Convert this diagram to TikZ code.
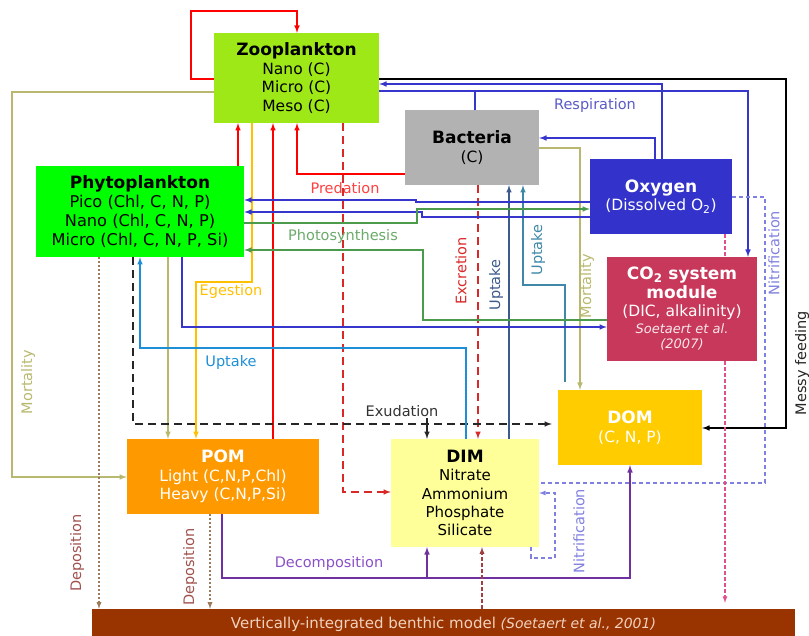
\documentclass[tikz,border=0pt]{standalone}
\usepackage{fontspec}
\setmainfont{DejaVu Sans}
\usepackage{tikz}
\usetikzlibrary{positioning}

\definecolor{zoocol}{HTML}{9FE817}
\definecolor{phycol}{HTML}{00FF00}
\definecolor{baccol}{HTML}{B2B2B2}
\definecolor{oxycol}{HTML}{3333CC}
\definecolor{co2col}{HTML}{C8385A}
\definecolor{domcol}{HTML}{FFCC00}
\definecolor{pomcol}{HTML}{FF9900}
\definecolor{dimcol}{HTML}{FFFF99}
\definecolor{bencol}{HTML}{993300}
\definecolor{bentxt}{HTML}{F2D2BE}
\definecolor{predred}{HTML}{FF0000}
\definecolor{excred}{HTML}{D92828}
\definecolor{egegold}{HTML}{FFC000}
\definecolor{mortolive}{HTML}{B8B86E}
\definecolor{depbrown}{HTML}{9C7A5C}
\definecolor{deplbl}{HTML}{A0524F}
\definecolor{upblue}{HTML}{1E8FD6}
\definecolor{upteal}{HTML}{3F88A8}
\definecolor{upnavy}{HTML}{3D5A8C}
\definecolor{respblue}{HTML}{3636CC}
\definecolor{resplbl}{HTML}{5A5AC8}
\definecolor{photgreen}{HTML}{4C9A4C}
\definecolor{photlbl}{HTML}{6AAA6A}
\definecolor{nitlav}{HTML}{8080E0}
\definecolor{pinkdash}{HTML}{E0508A}
\definecolor{decpurple}{HTML}{7030A0}
\definecolor{declbl}{HTML}{8A50C8}
\definecolor{bendash}{HTML}{A04040}

\newcommand\boxttl[1]{{\fontsize{17}{19}\selectfont\bfseries #1}}

\tikzset{
	box/.style={inner sep=0pt, align=center, font=\fontsize{15.5}{18.5}\selectfont},
	lbl/.style={inner sep=0pt, font=\fontsize{14.5}{17}\selectfont},
	flow/.style={line width=1.5pt},
	pred/.style={flow, predred, -latex},
	excd/.style={flow, excred, dash pattern=on 8pt off 5pt, -latex},
	ege/.style={flow, egegold, -latex},
	mort/.style={flow, mortolive, -latex},
	dep/.style={line width=1.3pt, depbrown, dash pattern=on 2pt off 2pt, -latex},
	exu/.style={flow, black!85, dash pattern=on 8pt off 5pt, -latex},
	upb/.style={flow, upblue, -latex},
	upt/.style={flow, upteal, -latex},
	upn/.style={flow, upnavy, -latex},
	resp/.style={flow, respblue, -latex},
	phot/.style={flow, photgreen, -latex},
	messy/.style={flow, black, -latex},
	nitr/.style={line width=1.2pt, nitlav, dash pattern=on 4pt off 3pt},
	pinkd/.style={line width=1.2pt, pinkdash, dash pattern=on 4pt off 2pt},
	dec/.style={flow, decpurple, -latex},
	benflux/.style={line width=1.3pt, bendash, dash pattern=on 4pt off 2pt, -latex}
}

\begin{document}
\begin{tikzpicture}[x=1pt, y=-1pt]
	\useasboundingbox (0,0) rectangle (809,636);

	% compartments
	\node[box, fill=zoocol, minimum width=165pt, minimum height=90pt] (zoo) at (296.5,78)
		{\boxttl{Zooplankton}\\Nano (C)\\Micro (C)\\Meso (C)};
	\node[box, fill=phycol, minimum width=208pt, minimum height=91pt,
		font=\fontsize{16.2}{18.8}\selectfont] (phyto) at (140,211.5)
		{\boxttl{Phytoplankton}\\Pico (Chl, C, N, P)\\Nano (Chl, C, N, P)\\Micro (Chl, C, N, P, Si)};
	\node[box, fill=baccol, minimum width=134pt, minimum height=75pt] (bac) at (472,147.5)
		{\boxttl{Bacteria}\\(C)};
	\node[box, fill=oxycol, text=white, minimum width=142pt, minimum height=75pt] (oxy) at (661,196.5)
		{\boxttl{Oxygen}\\(Dissolved O\textsubscript{2})};
	\node[box, fill=co2col, text=white, minimum width=150pt, minimum height=104pt] (co2) at (682,309)
		{\boxttl{CO\textsubscript{2} system}\\\boxttl{module}\\(DIC, alkalinity)\\[-2pt]
		{\fontsize{13}{15}\selectfont\itshape\color{white!88!co2col}Soetaert et al.}\\[-3pt]
		{\fontsize{13}{15}\selectfont\itshape\color{white!88!co2col}(2007)}};
	\node[box, fill=domcol, text=white, minimum width=144pt, minimum height=75pt] (dom) at (630,427.5)
		{\boxttl{DOM}\\(C, N, P)};
	\node[box, fill=pomcol, text=white, minimum width=192pt, minimum height=75pt] (pom) at (223,476.5)
		{\boxttl{POM}\\Light (C,N,P,Chl)\\Heavy (C,N,P,Si)};
	\node[box, fill=dimcol, minimum width=148pt, minimum height=108pt,
		font=\fontsize{15}{18.2}\selectfont] (dim) at (465,493)
		{\boxttl{DIM}\\Nitrate\\Ammonium\\Phosphate\\Silicate};
	\node[box, fill=bencol, text=bentxt, minimum width=703pt, minimum height=31pt,
		font=\fontsize{15}{17}\selectfont] (ben) at (443.5,624.5)
		{Vertically-integrated benthic model {\fontsize{14}{16}\selectfont\itshape (Soetaert et al., 2001)}};

	% junction points
	\coordinate (respjoin) at (475,91);
	\coordinate (exusplit) at (427,418);
	\coordinate (decsplit) at (427,578);

	% predation
	\draw[pred] (zoo.west |- 0,79) -- (191,79) -- (191,11) -- (297,11) -- (zoo.north -| 297,0);
	\draw[pred] (phyto.north -| 238,0) -- (zoo.south -| 238,0);
	\draw[pred] (pom.north -| 273,0) -- (zoo.south -| 273,0);
	\draw[pred] (bac.west |- 0,174) -- (297,174) -- (zoo.south -| 297,0);
	\node[lbl, predred!75] (predlbl) at (345,188) {Predation};

	% excretion
	\draw[excd] (zoo.south -| 343,0) -- (343,492) -- (dim.west |- 0,492);
	\draw[excd] (bac.south -| 478,0) -- (dim.north -| 478,0);
	\node[lbl, excred, rotate=90] (exclbl) at (461,271) {Excretion};

	% egestion
	\draw[ege] (zoo.south -| 252,0) -- (252,282) -- (196,282) -- (pom.north -| 196,0);
	\node[lbl, egegold] (egelbl) at (231,292) {Egestion};

	% mortality
	\draw[mort] (zoo.west |- 0,92) -- (12,92) -- (12,477) -- (pom.west |- 0,477);
	\draw[mort] (phyto.south -| 168,0) -- (pom.north -| 168,0);
	\draw[mort] (bac.east |- 0,148) -- (580,148) -- (dom.north -| 580,0);
	\node[lbl, mortolive, rotate=90] (mortlbla) at (28,382) {Mortality};
	\node[lbl, mortolive, rotate=90] (mortlblb) at (587,286) {Mortality};

	% deposition
	\draw[dep] (phyto.south -| 99,0) -- (ben.north -| 99,0);
	\draw[dep] (pom.south -| 210,0) -- (ben.north -| 210,0);
	\node[lbl, deplbl, rotate=90] (deplbla) at (77,553) {Deposition};
	\node[lbl, deplbl, rotate=90] (deplblb) at (190,567) {Deposition};

	% exudation
	\draw[exu, shorten >=6pt] (phyto.south -| 133,0) -- (133,424) -- (dom.west |- 0,424);
	\draw[exu, solid] (exusplit) -- (dim.north -| exusplit);
	\node[lbl, black!80] (exulbl) at (402,411) {Exudation};

	% uptake
	\draw[upb] (dim.north -| 466,0) -- (466,348) -- (140,348) -- (phyto.south -| 140,0);
	\node[lbl, upblue] (uplbla) at (231,362) {Uptake};
	\draw[upn] (dim.north -| 509,0) -- (bac.south -| 509,0);
	\node[lbl, upnavy, rotate=90] (uplblb) at (496,285) {Uptake};
	\draw[upt, shorten <=8pt] (dom.north -| 565,0) -- (565,285) -- (523,285) -- (bac.south -| 523,0);
	\node[lbl, upteal, rotate=90] (uplblc) at (538,250) {Uptake};

	% respiration and photosynthesis
	\draw[resp] (oxy.north -| 662,0) -- (662,84) -- (zoo.east |- 0,84);
	\draw[resp] (zoo.east |- 0,91) -- (748,91) -- (co2.north -| 748,0);
	\draw[flow, respblue] (bac.north -| respjoin) -- (respjoin);
	\draw[resp] (oxy.north -| 655,0) -- (655,138) -- (bac.east |- 0,138);
	\draw[resp] (oxy.west |- 0,202) -- (416,202) -- (416,200) -- (phyto.east |- 0,200);
	\draw[resp] (oxy.west |- 0,217) -- (422,217) -- (422,212) -- (phyto.east |- 0,212);
	\draw[resp] (phyto.south -| 182,0) -- (182,327) -- (co2.west |- 0,327);
	\node[lbl, resplbl] (resplbl) at (595,106) {Respiration};
	\draw[phot] (phyto.east |- 0,223) -- (417,223) -- (417,209) -- (oxy.west |- 0,209);
	\draw[phot] (co2.west |- 0,320) -- (423,320) -- (423,250) -- (phyto.east |- 0,250);
	\node[lbl, photlbl] (photlbl) at (343,237) {Photosynthesis};

	% messy feeding
	\draw[messy] (zoo.east |- 0,79) -- (786,79) -- (786,428) -- (dom.east |- 0,428);
	\node[lbl, black!85, rotate=90] (messylbl) at (802,363) {Messy feeding};

	% nitrification
	\draw[nitr] (oxy.east |- 0,197) -- (765,197) -- (765,483) -- (dim.east |- 0,483);
	\draw[nitr, -latex] (dim.south -| 531,0) -- (531,558) -- (555,558) -- (555,493) -- (dim.east |- 0,493);
	\node[lbl, nitlav, rotate=90] (nitlbla) at (774,253) {Nitrification};
	\node[lbl, nitlav, rotate=90] (nitlblb) at (579,531) {Nitrification};

	% oxygen to sediment
	\draw[pinkd] (oxy.south -| 725,0) -- (co2.north -| 725,0);
	\draw[pinkd, -latex, shorten >=6pt] (co2.south -| 725,0) -- (ben.north -| 725,0);

	% decomposition
	\draw[dec] (pom.south -| 222,0) -- (222,578) -- (630,578) -- (dom.south -| 630,0);
	\draw[dec] (decsplit) -- (dim.south -| decsplit);
	\node[lbl, declbl] (declbl) at (329,563) {Decomposition};

	% benthic flux
	\draw[benflux] (ben.north -| 482,0) -- (dim.south -| 482,0);
\end{tikzpicture}
\end{document}
